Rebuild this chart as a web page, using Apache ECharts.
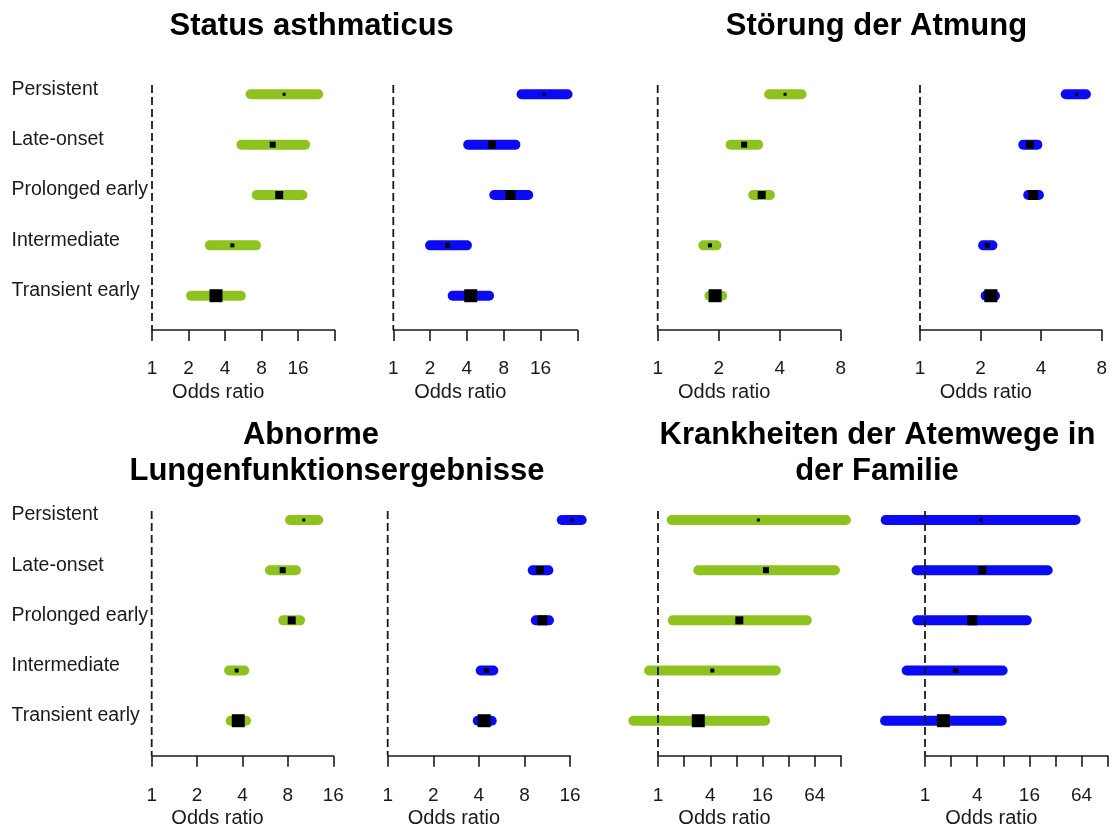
<!DOCTYPE html>
<html><head><meta charset="utf-8">
<script src="https://cdn.jsdelivr.net/npm/echarts@6/dist/echarts.min.js"></script>
<style>html,body{margin:0;padding:0;background:#fff}#chart{width:1112px;height:827px}</style>
</head><body><div id="chart"></div>
<script>
// ---------- DATA ----------
const classes = ['Persistent', 'Late-onset', 'Prolonged early', 'Intermediate', 'Transient early'];
const referenceOR = 1;

// relative weights of the point-estimate markers (green cohort / blue cohort)
const weightGreen = [3, 6, 8, 4, 13];
const weightBlue  = [3, 8, 10, 5, 13];

// Status asthmaticus
const saGreenOR = [12.3, 9.9, 11.2, 4.6, 3.37];
const saGreenLo = [6.5, 5.47, 7.3, 3.0, 2.1];
const saGreenHi = [23.5, 18.3, 17.4, 7.2, 5.4];
const saBlueOR  = [17.1, 6.4, 9.1, 2.78, 4.3];
const saBlueLo  = [11.2, 4.1, 6.7, 2.0, 3.06];
const saBlueHi  = [26.6, 9.97, 12.7, 4.0, 6.07];

// Störung der Atmung
const stGreenOR = [4.25, 2.67, 3.26, 1.81, 1.92];
const stGreenLo = [3.55, 2.29, 2.96, 1.68, 1.80];
const stGreenHi = [5.13, 3.13, 3.58, 1.95, 2.08];
const stBlueOR  = [6.0, 3.52, 3.65, 2.16, 2.25];
const stBlueLo  = [5.3, 3.26, 3.45, 2.06, 2.12];
const stBlueHi  = [6.68, 3.83, 3.9, 2.29, 2.36];

// Abnorme Lungenfunktionsergebnisse
const abGreenOR = [10.2, 7.39, 8.48, 3.66, 3.75];
const abGreenLo = [8.26, 6.08, 7.45, 3.26, 3.34];
const abGreenHi = [12.7, 9.06, 9.63, 4.11, 4.22];
const abBlueOR  = [16.5, 10.1, 10.5, 4.5, 4.33];
const abBlueLo  = [14.1, 9.06, 9.5, 4.11, 3.93];
const abBlueHi  = [19.1, 11.5, 11.6, 4.98, 4.86];

// Krankheiten der Atemwege in der Familie
const krGreenOR = [14.3, 17.5, 8.64, 4.22, 2.91];
const krGreenLo = [1.44, 2.91, 1.48, 0.79, 0.52];
const krGreenHi = [146, 109, 51.6, 22.7, 17.1];
const krBlueOR  = [4.39, 4.58, 3.51, 2.26, 1.63];
const krBlueLo  = [0.352, 0.80, 0.815, 0.615, 0.346];
const krBlueHi  = [54.6, 26, 14.9, 7.87, 7.67];

// axis ranges and tick labels
const axisMaxSA = 32,  tickLabelsSA = [1, 2, 4, 8, 16];
const axisMaxST = 8,   tickLabelsST = [1, 2, 4, 8];
const axisMaxAB = 16,  tickLabelsAB = [1, 2, 4, 8, 16];
const axisMaxKR = 128, tickLabelsKR = [1, 4, 16, 64];

const titleSA = 'Status asthmaticus';
const titleST = 'Störung der Atmung';
const titleAB1 = 'Abnorme';
const titleAB2 = 'Lungenfunktionsergebnisse';
const titleKR1 = 'Krankheiten der Atemwege in';
const titleKR2 = 'der Familie';
const axisTitle = 'Odds ratio';

// ---------- STYLE / LAYOUT ----------
const GREEN = '#8dc21f', BLUE = '#0a0af5', INK = '#1a1a1a';
const FONT = 'Liberation Sans, Arial, sans-serif';
const TOP_ROW = {top: 69.1, height: 251.8, offset: 9};
const BOT_ROW = {top: 494.9, height: 250.9, offset: 10};

const panels = [
  {lo: saGreenLo, or: saGreenOR, hi: saGreenHi, w: weightGreen, color: GREEN, max: axisMaxSA, labels: tickLabelsSA, left: 152, width: 182.5, row: TOP_ROW, cats: true},
  {lo: saBlueLo,  or: saBlueOR,  hi: saBlueHi,  w: weightBlue,  color: BLUE,  max: axisMaxSA, labels: tickLabelsSA, left: 393.3, width: 184, row: TOP_ROW},
  {lo: stGreenLo, or: stGreenOR, hi: stGreenHi, w: weightGreen, color: GREEN, max: axisMaxST, labels: tickLabelsST, left: 657.7, width: 183, row: TOP_ROW},
  {lo: stBlueLo,  or: stBlueOR,  hi: stBlueHi,  w: weightBlue,  color: BLUE,  max: axisMaxST, labels: tickLabelsST, left: 920, width: 181.7, row: TOP_ROW},
  {lo: abGreenLo, or: abGreenOR, hi: abGreenHi, w: weightGreen, color: GREEN, max: axisMaxAB, labels: tickLabelsAB, left: 151.7, width: 181.6, row: BOT_ROW, cats: true},
  {lo: abBlueLo,  or: abBlueOR,  hi: abBlueHi,  w: weightBlue,  color: BLUE,  max: axisMaxAB, labels: tickLabelsAB, left: 387.7, width: 182.4, row: BOT_ROW},
  {lo: krGreenLo, or: krGreenOR, hi: krGreenHi, w: weightGreen, color: GREEN, max: axisMaxKR, labels: tickLabelsKR, left: 658, width: 183, row: BOT_ROW},
  {lo: krBlueLo,  or: krBlueOR,  hi: krBlueHi,  w: weightBlue,  color: BLUE,  max: axisMaxKR, labels: tickLabelsKR, left: 925, width: 182.7, row: BOT_ROW}
];

const grids = [], xAxes = [], yAxes = [], series = [];
panels.forEach((p, k) => {
  grids.push({left: p.left, top: p.row.top, width: p.width, height: p.row.height, containLabel: false, outerBoundsMode: 'none'});
  xAxes.push({
    type: 'log', logBase: 2, min: 1, max: p.max, gridIndex: k,
    offset: p.row.offset,
    axisLine: {show: true, lineStyle: {color: INK, width: 1.6}},
    axisTick: {show: true, inside: false, length: 11, lineStyle: {color: INK, width: 1.6}},
    axisLabel: {
      margin: p.row === TOP_ROW ? 29 : 30, fontSize: 19, color: INK, fontFamily: FONT, hideOverlap: false,
      showMinLabel: true, showMaxLabel: true,
      formatter: v => { const r = Math.round(v); return p.labels.indexOf(r) >= 0 ? String(r) : ''; }
    },
    splitLine: {show: false}, minorTick: {show: false},
    name: axisTitle, nameLocation: 'middle', nameGap: 53,
    nameTextStyle: {fontSize: 20, color: INK, fontFamily: FONT, padding: [0, 50, 0, 0]}
  });
  yAxes.push({
    type: 'category', data: classes, inverse: true, gridIndex: k,
    axisLine: {show: false}, axisTick: {show: false}, splitLine: {show: false},
    axisLabel: p.cats ? {
      show: true, interval: 0, align: 'left', margin: p.left - 11.5,
      fontSize: 19.5, color: INK, fontFamily: FONT, verticalAlign: 'bottom', lineHeight: 10
    } : {show: false}
  });
  const color = p.color;
  series.push({
    type: 'custom', xAxisIndex: k, yAxisIndex: k, clip: false, z: 2,
    encode: {x: [0, 1, 2], y: 3},
    data: classes.map((c, i) => [p.lo[i], p.or[i], p.hi[i], c, p.w[i]]),
    renderItem: (params, api) => {
      const y = api.value(3);
      const a = api.coord([api.value(0), y]);
      const b = api.coord([api.value(2), y]);
      const m = api.coord([api.value(1), y]);
      const s = api.value(4);
      return {type: 'group', children: [
        {type: 'line', shape: {x1: a[0], y1: a[1], x2: b[0], y2: b[1]},
         style: {stroke: color, lineWidth: 10, lineCap: 'round'}},
        {type: 'rect', shape: {x: m[0] - s / 2, y: m[1] - s / 2, width: s, height: s},
         style: {fill: '#000'}}
      ]};
    }
  });
  const off = p.row.offset;
  series.push({
    type: 'custom', xAxisIndex: k, yAxisIndex: k, clip: false, z: 3,
    encode: {x: 0, y: 1},
    data: [[referenceOR, classes[0]]],
    renderItem: (params, api) => {
      const cs = params.coordSys;
      const x = api.coord([api.value(0), api.value(1)])[0];
      return {type: 'line', shape: {x1: x, y1: cs.y + 16, x2: x, y2: cs.y + cs.height + off},
        style: {stroke: INK, lineWidth: 1.8, lineDash: [8, 4]}};
    }
  });
});

const tStyle = {fontSize: 31, fontWeight: 'bold', color: '#000', fontFamily: FONT};
const titles = [
  {text: titleSA, left: 311.7, top: 11, textAlign: 'center', textStyle: tStyle, padding: 0},
  {text: titleST, left: 876.5, top: 11, textAlign: 'center', textStyle: tStyle, padding: 0},
  {text: titleAB1, left: 311, top: 420, textAlign: 'center', textStyle: tStyle, padding: 0},
  {text: titleAB2, left: 337, top: 456, textAlign: 'center', textStyle: tStyle, padding: 0},
  {text: titleKR1, left: 877.5, top: 420, textAlign: 'center', textStyle: tStyle, padding: 0},
  {text: titleKR2, left: 877, top: 456, textAlign: 'center', textStyle: tStyle, padding: 0}
];

const chart = echarts.init(document.getElementById('chart'), null, {renderer: 'canvas'});
chart.setOption({
  animation: false,
  backgroundColor: '#fff',
  title: titles,
  grid: grids, xAxis: xAxes, yAxis: yAxes, series: series
});
</script></body></html>
